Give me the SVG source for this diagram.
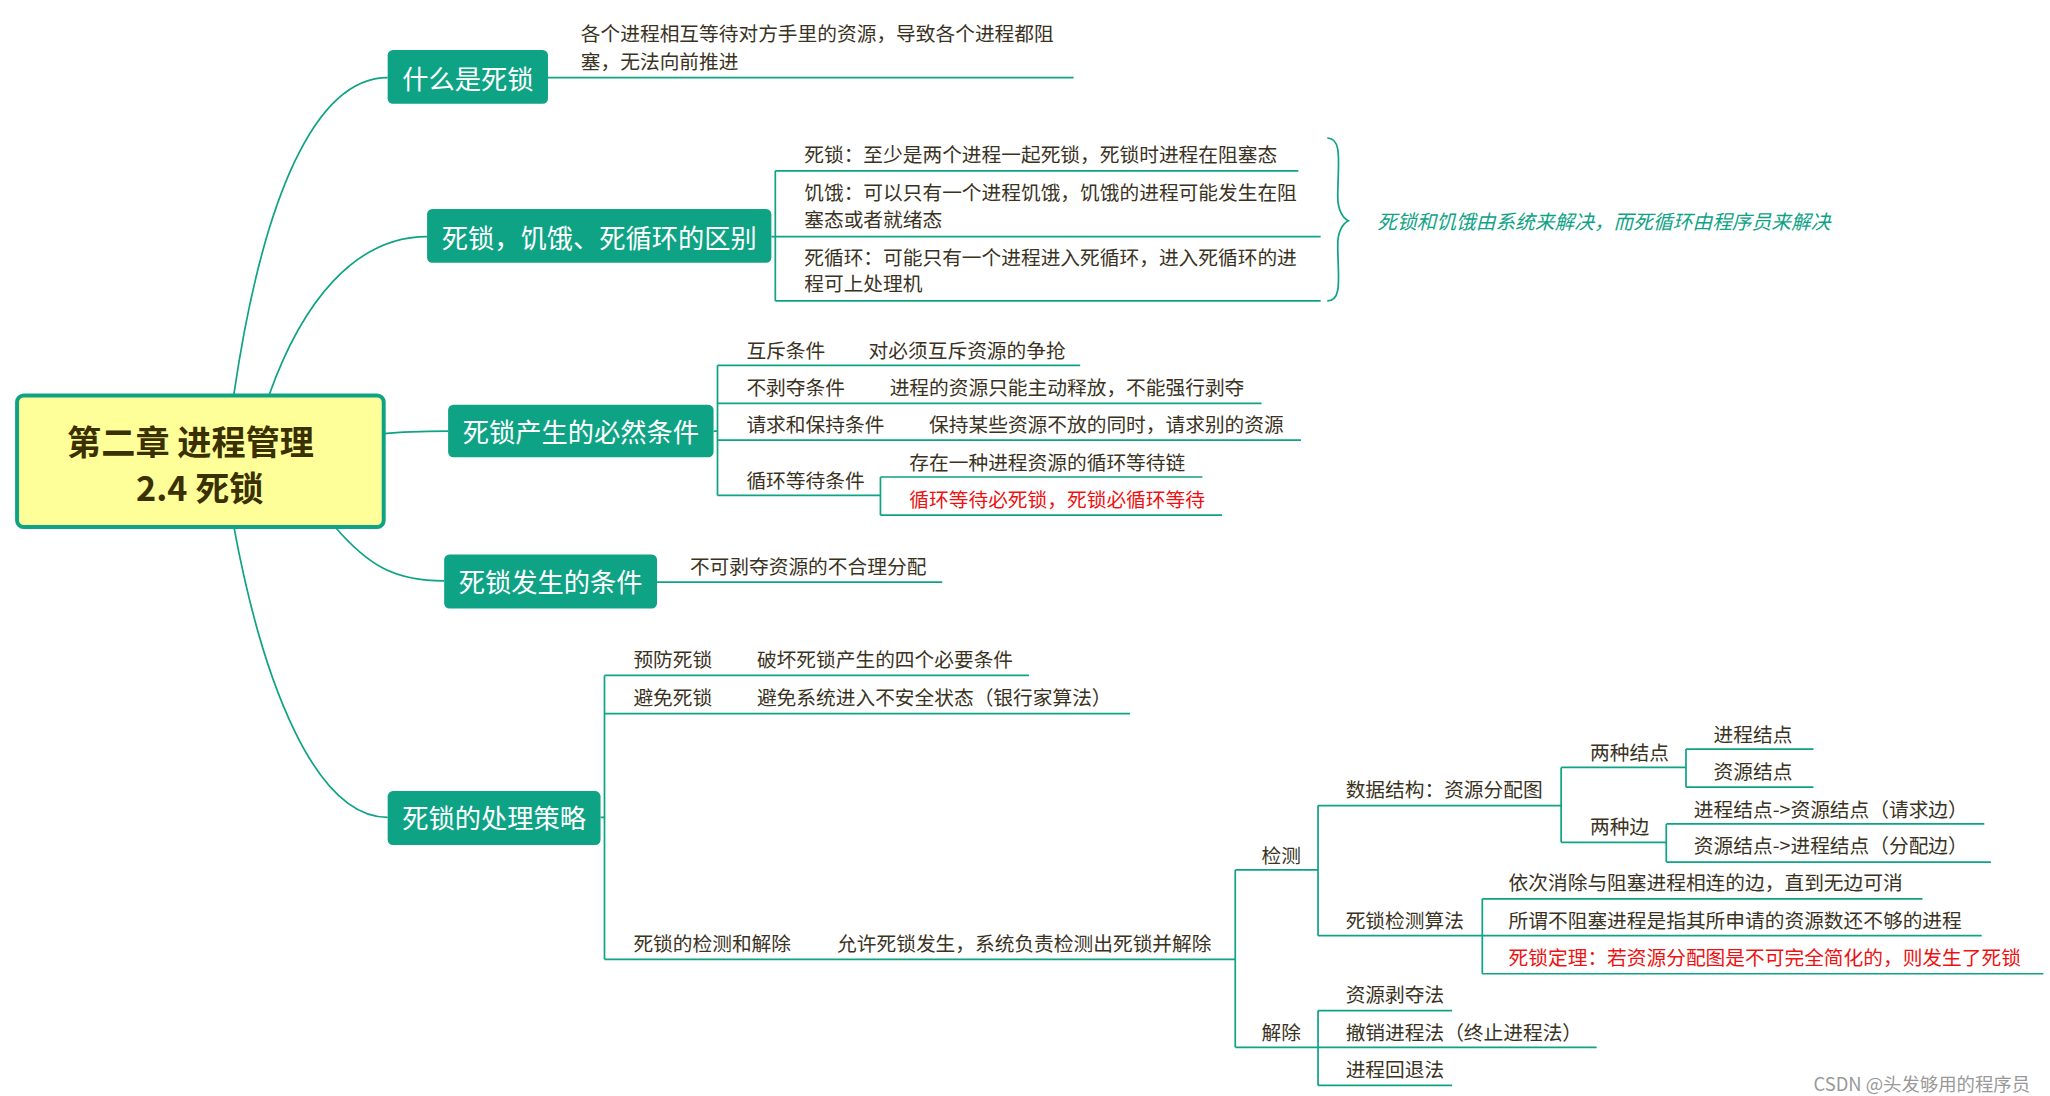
<svg xmlns="http://www.w3.org/2000/svg" width="2050" height="1096" viewBox="0 0 2050 1096">
<style>
.t{font-family:"Noto Sans CJK SC","Liberation Sans",sans-serif;font-size:15px;fill:#3a3323;dominant-baseline:central}
.r{fill:#ee1111}
.nb{fill:#0fa385}
.nt{font-family:"Noto Sans CJK SC","Liberation Sans",sans-serif;font-size:20px;fill:#fff;dominant-baseline:central;text-anchor:middle}
.c path{fill:none;stroke:#0fa385;stroke-width:1.3}
</style>
<rect width="2050" height="1096" fill="#fff"/>
<g transform="scale(1.3141)">
<g class="c" id="connectors">
<path d="M178,300 C200,150 240,59 295,59"/>
<path d="M205,300 C230,230 270,180 325,180"/>
<path d="M292,330 C310,328 320,328 341,328"/>
<path d="M255,401 C280,430 300,442 338,442"/>
<path d="M178,401 C200,520 240,622 295,622"/>
<path d="M417,59 H817"/>
<path d="M587,180 H590 M590,130 V229 M590,130 H988 M590,180 H1005 M590,229 H1005"/>
<path d="M1010,105 C1022,105 1018,125 1018,150 C1018,160 1022,166 1026,168 C1022,170 1018,176 1018,186 C1018,210 1022,229 1010,229"/>
<path d="M543,328 H546 M546,278 V377 M546,278 H822 M546,307 H960 M546,335 H990 M546,377 H670 M670,363 V392 M670,363 H915 M670,392 H930"/>
<path d="M500,443 H717"/>
<path d="M457,622 H460 M460,514 V730 M460,514 H783 M460,543 H860 M460,730 H940"/>
<path d="M940,662 V797 M940,662 H1003 M940,797 H1003"/>
<path d="M1003,613 V712 M1003,613 H1188 M1003,712 H1128"/>
<path d="M1188,584 V641 M1188,584 H1283 M1188,641 H1268"/>
<path d="M1283,570 V599 M1283,570 H1380 M1283,599 H1380"/>
<path d="M1268,627 V656 M1268,627 H1510 M1268,656 H1515"/>
<path d="M1128,684 V741 M1128,684 H1463 M1128,712 H1508 M1128,741 H1555"/>
<path d="M1003,769 V826 M1003,769 H1105 M1003,797 H1215 M1003,826 H1105"/>
</g>
<g id="root">
<rect x="13" y="301" width="279" height="100" rx="5" fill="#ffff99" stroke="#0fa385" stroke-width="3"/>
<text x="145" y="335" text-anchor="middle" style="font-family:'Noto Sans CJK SC',sans-serif;font-size:26px;font-weight:bold;fill:#3a3000;dominant-baseline:central">第二章  进程管理</text>
<text x="152" y="370" text-anchor="middle" style="font-family:'Noto Sans CJK SC',sans-serif;font-size:26px;font-weight:bold;fill:#3a3000;dominant-baseline:central">2.4  死锁</text>
</g>
<g id="n1"><rect class="nb" x="295" y="38" width="122" height="41" rx="4"/><text class="nt" x="356" y="59">什么是死锁</text></g>
<g id="n2"><rect class="nb" x="325" y="159" width="262" height="41" rx="4"/><text class="nt" x="456" y="180">死锁，饥饿、死循环的区别</text></g>
<g id="n3"><rect class="nb" x="341" y="308" width="202" height="40" rx="4"/><text class="nt" x="442" y="328">死锁产生的必然条件</text></g>
<g id="n4"><rect class="nb" x="338" y="422" width="162" height="41" rx="4"/><text class="nt" x="419" y="442">死锁发生的条件</text></g>
<g id="n5"><rect class="nb" x="295" y="602" width="162" height="41" rx="4"/><text class="nt" x="376" y="622">死锁的处理策略</text></g>
<g id="labels">
<text class="t" x="442" y="25">各个进程相互等待对方手里的资源，导致各个进程都阻</text>
<text class="t" x="442" y="46">塞，无法向前推进</text>
<text class="t" x="612" y="117">死锁：至少是两个进程一起死锁，死锁时进程在阻塞态</text>
<text class="t" x="612" y="146">饥饿：可以只有一个进程饥饿，饥饿的进程可能发生在阻</text>
<text class="t" x="612" y="166">塞态或者就绪态</text>
<text class="t" x="612" y="195">死循环：可能只有一个进程进入死循环，进入死循环的进</text>
<text class="t" x="612" y="215">程可上处理机</text>
<text class="t" x="1048" y="168" style="fill:#0fa385;font-style:italic">死锁和饥饿由系统来解决，而死循环由程序员来解决</text>
<text class="t" x="568" y="266">互斥条件</text><text class="t" x="661" y="266">对必须互斥资源的争抢</text>
<text class="t" x="568" y="294">不剥夺条件</text><text class="t" x="677" y="294">进程的资源只能主动释放，不能强行剥夺</text>
<text class="t" x="568" y="322">请求和保持条件</text><text class="t" x="707" y="322">保持某些资源不放的同时，请求别的资源</text>
<text class="t" x="568" y="365">循环等待条件</text>
<text class="t" x="692" y="351">存在一种进程资源的循环等待链</text>
<text class="t r" x="692" y="379">循环等待必死锁，死锁必循环等待</text>
<text class="t" x="525" y="430">不可剥夺资源的不合理分配</text>
<text class="t" x="482" y="501">预防死锁</text><text class="t" x="576" y="501">破坏死锁产生的四个必要条件</text>
<text class="t" x="482" y="530">避免死锁</text><text class="t" x="576" y="530">避免系统进入不安全状态（银行家算法）</text>
<text class="t" x="482" y="717">死锁的检测和解除</text><text class="t" x="637" y="717">允许死锁发生，系统负责检测出死锁并解除</text>
<text class="t" x="960" y="650">检测</text>
<text class="t" x="1024" y="600">数据结构：资源分配图</text>
<text class="t" x="1210" y="572">两种结点</text>
<text class="t" x="1304" y="558">进程结点</text>
<text class="t" x="1304" y="586">资源结点</text>
<text class="t" x="1210" y="628">两种边</text>
<text class="t" x="1289" y="615">进程结点-&gt;资源结点（请求边）</text>
<text class="t" x="1289" y="643">资源结点-&gt;进程结点（分配边）</text>
<text class="t" x="1024" y="700">死锁检测算法</text>
<text class="t" x="1148" y="671">依次消除与阻塞进程相连的边，直到无边可消</text>
<text class="t" x="1148" y="700">所谓不阻塞进程是指其所申请的资源数还不够的进程</text>
<text class="t r" x="1148" y="728">死锁定理：若资源分配图是不可完全简化的，则发生了死锁</text>
<text class="t" x="960" y="785">解除</text>
<text class="t" x="1024" y="756">资源剥夺法</text>
<text class="t" x="1024" y="785">撤销进程法（终止进程法）</text>
<text class="t" x="1024" y="813">进程回退法</text>
<text class="t" x="1380" y="824" style="fill:#999;font-size:14px">CSDN @头发够用的程序员</text>
</g>
</g>
</svg>
